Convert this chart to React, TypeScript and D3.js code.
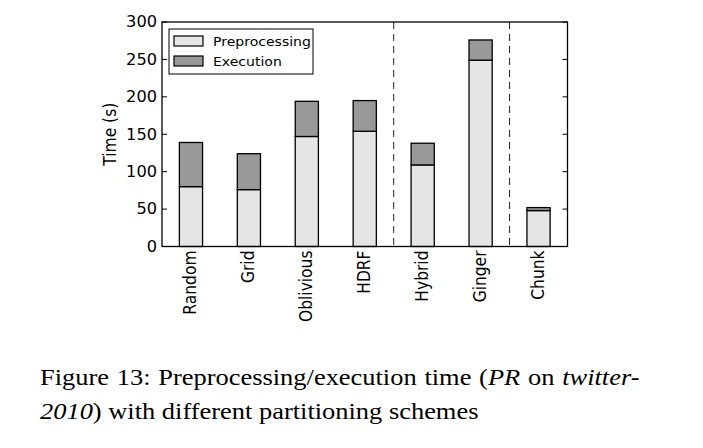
import React, { useEffect, useRef } from 'react'

import * as d3 from 'd3'

const schemes = ['Random', 'Grid', 'Oblivious', 'HDRF', 'Hybrid', 'Ginger', 'Chunk']
const preprocessing = [80, 76, 147, 154, 109, 249, 48]
const execution = [59, 48, 47, 41, 29, 27, 4]
const yTicks = [0, 50, 100, 150, 200, 250, 300]
// index of the first bar in each new group (a dashed line is drawn before it)
const groupStarts = [4, 6]
const legendLabels = ['Preprocessing', 'Execution']

const PRE_FILL = '#e5e5e5'
const EXE_FILL = '#999999'

const App: React.FC = () => {
  const chartRef = useRef<SVGSVGElement | null>(null)

  useEffect(() => {
    const svg = d3.select(chartRef.current)
    svg.selectAll('*').remove()

    const left = 162
    const right = 567.5
    const top = 22
    const bottom = 246.5
    const sx = 1.08
    const font = 'DejaVu Sans, sans-serif'
    const serif = "'Liberation Serif', 'Times New Roman', serif"

    const x = d3.scaleBand<string>().domain(schemes).range([left, right]).paddingInner(0.6).paddingOuter(0.3)
    const y = d3.scaleLinear().domain([0, 300]).range([bottom, top])

    const rows = schemes.map((s, i) => ({ name: s, pre: preprocessing[i], exe: execution[i] }))

    // dashed group separators
    const g = svg.append('g')
    groupStarts.forEach((i) => {
      const cx = (x(schemes[i - 1])! + x(schemes[i])!) / 2 + x.bandwidth() / 2
      g.append('line')
        .attr('x1', cx)
        .attr('x2', cx)
        .attr('y1', top)
        .attr('y2', bottom)
        .attr('stroke', '#222')
        .attr('stroke-width', 1)
        .attr('stroke-dasharray', '7,5')
    })

    // bars
    const bars = g.selectAll('.bar').data(rows).enter().append('g').attr('class', 'bar')
    bars
      .append('rect')
      .attr('x', (d) => x(d.name)!)
      .attr('width', x.bandwidth())
      .attr('y', (d) => y(d.pre))
      .attr('height', (d) => y(0) - y(d.pre))
      .attr('fill', PRE_FILL)
      .attr('stroke', '#000')
      .attr('stroke-width', 1.3)
    bars
      .append('rect')
      .attr('x', (d) => x(d.name)!)
      .attr('width', x.bandwidth())
      .attr('y', (d) => y(d.pre + d.exe))
      .attr('height', (d) => y(d.pre) - y(d.pre + d.exe))
      .attr('fill', EXE_FILL)
      .attr('stroke', '#000')
      .attr('stroke-width', 1.3)

    // frame
    g.append('rect')
      .attr('x', left)
      .attr('y', top)
      .attr('width', right - left)
      .attr('height', bottom - top)
      .attr('fill', 'none')
      .attr('stroke', '#000')
      .attr('stroke-width', 1.3)

    // y ticks, inward on both sides
    yTicks.forEach((t) => {
      g.append('line').attr('x1', left).attr('x2', left + 5).attr('y1', y(t)).attr('y2', y(t)).attr('stroke', '#000')
      g.append('line').attr('x1', right - 5).attr('x2', right).attr('y1', y(t)).attr('y2', y(t)).attr('stroke', '#000')
      g.append('text')
        .attr('transform', `translate(${left - 5},${y(t)}) scale(${sx},1)`)
        .attr('dy', '0.36em')
        .attr('text-anchor', 'end')
        .attr('font-family', font)
        .attr('font-size', 15)
        .text(t)
    })

    // y label
    g.append('text')
      .attr('transform', `translate(${116},${(top + bottom) / 2}) scale(${sx},1) rotate(-90)`)
      .attr('text-anchor', 'middle')
      .attr('font-family', font)
      .attr('font-size', 15.5)
      .text('Time (s)')

    // x labels
    schemes.forEach((s) => {
      g.append('text')
        .attr('transform', `translate(${x(s)! + x.bandwidth() / 2 - 1},${bottom + 4}) scale(${sx},1) rotate(-90)`)
        .attr('dy', '0.36em')
        .attr('text-anchor', 'end')
        .attr('font-family', font)
        .attr('font-size', 15.5)
        .text(s)
    })

    // legend
    const lg = g.append('g')
    lg.append('rect').attr('x', 169).attr('y', 29).attr('width', 144).attr('height', 45).attr('fill', '#fff').attr('stroke', '#000').attr('stroke-width', 1)
    legendLabels.forEach((l, i) => {
      const ly = 36 + i * 20
      lg.append('rect')
        .attr('x', 174)
        .attr('y', ly)
        .attr('width', 29)
        .attr('height', 10)
        .attr('fill', i === 0 ? PRE_FILL : EXE_FILL)
        .attr('stroke', '#000')
        .attr('stroke-width', 1.2)
      lg.append('text')
        .attr('transform', `translate(213,${ly + 10}) scale(${sx},1)`)
        .attr('font-family', font)
        .attr('font-size', 13)
        .text(l)
    })

    // caption
    const cap = svg
      .append('text')
      .attr('transform', 'translate(40,385) scale(1.15,1)')
      .attr('font-family', serif)
      .attr('font-size', 23)
      .attr('word-spacing', 1)
    cap.append('tspan').text('Figure 13: Preprocessing/execution time (')
    cap.append('tspan').attr('font-style', 'italic').text('PR')
    cap.append('tspan').text(' on ')
    cap.append('tspan').attr('font-style', 'italic').text('twitter-')
    const cap2 = svg
      .append('text')
      .attr('transform', 'translate(40,419) scale(1.15,1)')
      .attr('font-family', serif)
      .attr('font-size', 23)
    cap2.append('tspan').attr('font-style', 'italic').text('2010')
    cap2.append('tspan').text(') with different partitioning schemes')
  }, [])

  return (
    <svg
      ref={chartRef}
      width={703}
      height={448}
      style={{ position: 'absolute', left: 0, top: 0, background: '#fff' }}
    ></svg>
  )
}

export default App
